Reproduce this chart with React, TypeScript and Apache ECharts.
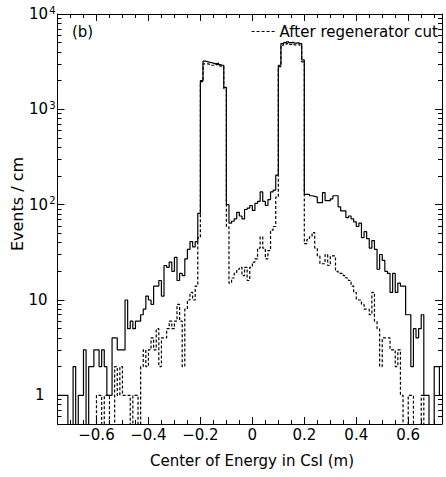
import { useEffect, useRef } from 'react';
import * as echarts from 'echarts';

// Histogram binning (1 cm bins starting at the left edge of the axis)
const BIN_START = -0.75;
const BIN_WIDTH = 0.01;

// All events (solid histogram), one value per 1 cm bin from -0.75 to 0.73
const solidCounts = [
  1, 1, 1, 1, 0, 0, 2, 0, 1, 1,
  3, 0, 2, 2, 3, 3, 2, 3, 2, 1,
  1, 4, 4, 3, 3, 3, 10, 5, 6, 5,
  6, 6, 7, 8, 11, 10, 9, 14, 14, 16,
  11, 23, 22, 25, 20, 28, 16, 19, 18, 27,
  34, 41, 36, 41, 81, 2000, 3200, 3150, 3100, 3050,
  3000, 3050, 2950, 2900, 1700, 100, 64, 67, 71, 83,
  76, 71, 89, 92, 98, 87, 103, 108, 136, 108,
  98, 113, 136, 142, 204, 2900, 4900, 5000, 5100, 5000,
  5050, 4950, 5000, 4900, 3300, 128, 128, 124, 122, 120,
  105, 105, 134, 110, 110, 115, 124, 124, 95, 86,
  86, 73, 76, 71, 66, 59, 64, 45, 52, 44,
  35, 42, 34, 21, 30, 26, 20, 19, 12, 19,
  12, 15, 14, 14, 7, 7, 2, 5, 4, 5,
  7, 1, 1, 0, 0, 2, 2, 1,
];

// After regenerator cut (dashed histogram)
const dashedCounts = [
  0, 0, 0, 0, 0, 0, 0, 0, 0, 0,
  0, 0, 0, 0, 0, 1, 1, 0, 1, 1,
  0, 0, 2, 1, 2, 1, 1, 1, 0, 1,
  1, 0, 2, 3, 2, 3, 4, 3, 5, 2,
  4, 4, 5, 6, 5, 6, 9, 6, 2, 8,
  10, 12, 10, 14, 45, 1950, 3000, 3000, 2950, 2900,
  2900, 2950, 2850, 2800, 1650, 59, 15, 17, 19, 21,
  22, 18, 22, 16, 22, 25, 27, 35, 46, 35,
  27, 33, 54, 59, 120, 2800, 4700, 4800, 4900, 4800,
  4850, 4750, 4800, 4700, 3150, 39, 43, 46, 51, 35,
  29, 24, 24, 30, 23, 29, 29, 20, 19, 19,
  18, 17, 16, 14, 12, 10, 10, 9, 8, 8,
  7, 12, 6, 5, 2, 4, 4, 4, 3, 3,
  2, 3, 1, 0, 0, 1, 1, 0, 0, 0,
  1, 0, 0, 0, 0, 0, 0, 0,
];

const xMajorTicks = [-0.6, -0.4, -0.2, 0, 0.2, 0.4, 0.6];
const yMajorTicks = [1, 10, 100, 1000, 10000];
const yMinorMultipliers = [2, 3, 4, 5, 6, 7, 8, 9];
const yDecades = [0.1, 1, 10, 100, 1000];

const legendLabel = 'After regenerator cut';
const allLabel = 'All events';
const xTitle = 'Center of Energy in CsI (m)';
const yTitle = 'Events / cm';
const panelLabel = '(b)';

const FONT = 'DejaVu Sans';

function toSteps(counts: number[]) {
  const pts: number[][] = counts.map((c, i) => [
    Math.round((BIN_START + i * BIN_WIDTH) * 1000) / 1000,
    c > 0 ? c : 0.05,
  ]);
  const last = counts[counts.length - 1];
  pts.push([
    Math.round((BIN_START + counts.length * BIN_WIDTH) * 1000) / 1000,
    last > 0 ? last : 0.05,
  ]);
  return pts;
}

export default function App() {
  const ref = useRef<HTMLDivElement>(null);

  useEffect(() => {
    if (!ref.current) return;
    const chart = echarts.init(ref.current, undefined, { renderer: 'svg' });

    const yMinorTicks: number[] = [];
    yDecades.forEach((d) =>
      yMinorMultipliers.forEach((m) => {
        const v = Math.round(d * m * 1000) / 1000;
        if (v >= 0.5 && v <= 10000) yMinorTicks.push(v);
      })
    );

    const black = '#000';
    const xCommon = {
      type: 'value' as const,
      min: -0.75,
      max: 0.73,
      splitLine: { show: false },
    };
    const yCommon = {
      type: 'log' as const,
      logBase: 10,
      min: 0.5,
      max: 10000,
      splitLine: { show: false },
    };

    const xLabelFmt = (v: number) => {
      if (Math.abs(v) < 1e-9) return '0';
      return (v < 0 ? '\u2212' : '') + Math.abs(v).toFixed(1);
    };
    const yLabelFmt = (v: number) => {
      const e = Math.round(Math.log10(v));
      if (e === 0) return '{p1|1}';
      if (e === 1) return '{p10|10}';
      return '{b|10}{s|' + e + '}';
    };

    chart.setOption({
      animation: false,
      backgroundColor: '#fff',
      textStyle: { fontFamily: FONT, color: black },
      grid: { left: 57.5, right: 4, top: 14, bottom: 53 },
      legend: {
        data: [legendLabel],
        left: 251,
        top: 24,
        itemWidth: 23,
        itemHeight: 10,
        padding: 0,
        itemStyle: { opacity: 0 },
        lineStyle: { color: black, width: 1.2, type: [3, 2] },
        textStyle: { fontSize: 15, color: black, fontFamily: FONT },
      },
      xAxis: [
        {
          ...xCommon,
          position: 'bottom',
          axisLine: { show: true, onZero: false, lineStyle: { color: black, width: 1 } },
          axisTick: {
            show: true,
            inside: true,
            length: 7,
            customValues: xMajorTicks,
            lineStyle: { color: black },
          },
          axisLabel: {
            customValues: xMajorTicks,
            formatter: xLabelFmt,
            margin: 3,
            color: black,
            fontSize: 15,
            fontFamily: FONT,
          },
        },
        {
          ...xCommon,
          position: 'bottom',
          interval: 0.05,
          axisLine: { show: false, onZero: false },
          axisTick: { show: true, inside: true, length: 4, lineStyle: { color: black } },
          axisLabel: { show: false },
        },
        {
          ...xCommon,
          position: 'top',
          axisLine: { show: true, onZero: false, lineStyle: { color: black, width: 1 } },
          axisTick: {
            show: true,
            inside: true,
            length: 7,
            customValues: xMajorTicks,
            lineStyle: { color: black },
          },
          axisLabel: { show: false },
        },
        {
          ...xCommon,
          position: 'top',
          interval: 0.05,
          axisLine: { show: false, onZero: false },
          axisTick: { show: true, inside: true, length: 4, lineStyle: { color: black } },
          axisLabel: { show: false },
        },
      ],
      yAxis: [
        {
          ...yCommon,
          position: 'left',
          axisLine: { show: true, onZero: false, lineStyle: { color: black, width: 1 } },
          axisTick: {
            show: true,
            inside: true,
            length: 7,
            customValues: yMajorTicks,
            lineStyle: { color: black },
          },
          axisLabel: {
            customValues: yMajorTicks,
            formatter: yLabelFmt,
            margin: 2,
            color: black,
            rich: {
              b: { fontSize: 15, fontFamily: FONT, color: black, lineHeight: 18 },
              s: {
                fontSize: 10,
                fontFamily: FONT,
                color: black,
                verticalAlign: 'top',
                lineHeight: 10,
                padding: [0, 0, 0, 1],
              },
              p1: { fontSize: 15, fontFamily: FONT, color: black, padding: [0, 11, 0, 0] },
              p10: { fontSize: 15, fontFamily: FONT, color: black, padding: [0, 8, 0, 0] },
            },
          },
        },
        {
          ...yCommon,
          position: 'left',
          axisLine: { show: false, onZero: false },
          axisTick: {
            show: true,
            inside: true,
            length: 4,
            customValues: yMinorTicks,
            lineStyle: { color: black },
          },
          axisLabel: { show: false },
        },
        {
          ...yCommon,
          position: 'right',
          axisLine: { show: true, onZero: false, lineStyle: { color: black, width: 1 } },
          axisTick: {
            show: true,
            inside: true,
            length: 7,
            customValues: yMajorTicks,
            lineStyle: { color: black },
          },
          axisLabel: { show: false },
        },
        {
          ...yCommon,
          position: 'right',
          axisLine: { show: false, onZero: false },
          axisTick: {
            show: true,
            inside: true,
            length: 4,
            customValues: yMinorTicks,
            lineStyle: { color: black },
          },
          axisLabel: { show: false },
        },
      ],
      series: [
        {
          name: allLabel,
          type: 'line',
          step: 'end',
          xAxisIndex: 0,
          yAxisIndex: 0,
          symbol: 'none',
          clip: true,
          data: toSteps(solidCounts),
          lineStyle: { color: black, width: 1.2, type: 'solid' },
          itemStyle: { color: black },
        },
        {
          name: legendLabel,
          type: 'line',
          step: 'end',
          xAxisIndex: 0,
          yAxisIndex: 0,
          symbol: 'none',
          clip: true,
          data: toSteps(dashedCounts),
          lineStyle: { color: black, width: 1.2, type: [3, 2] },
          itemStyle: { color: black },
        },
      ],
      graphic: [
        {
          type: 'text',
          x: 72,
          y: 32,
          style: {
            text: panelLabel,
            fontSize: 15,
            fontFamily: FONT,
            fill: black,
            align: 'left',
            verticalAlign: 'middle',
          },
        },
        {
          type: 'text',
          x: 252,
          y: 461,
          style: {
            text: xTitle,
            fontSize: 15,
            fontFamily: FONT,
            fill: black,
            align: 'center',
            verticalAlign: 'middle',
          },
        },
        {
          type: 'text',
          x: 17,
          y: 204,
          rotation: Math.PI / 2,
          style: {
            text: yTitle,
            fontSize: 16,
            fontFamily: FONT,
            fill: black,
            align: 'center',
            verticalAlign: 'middle',
          },
        },
      ],
    });

    return () => chart.dispose();
  }, []);

  return (
    <div
      ref={ref}
      style={{ position: 'fixed', left: 0, top: 0, width: 446, height: 477, background: '#fff' }}
    />
  );
}
